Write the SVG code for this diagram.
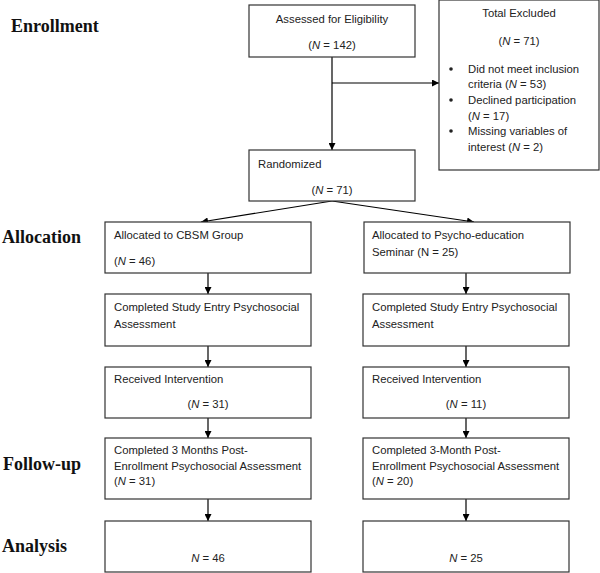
<svg xmlns="http://www.w3.org/2000/svg" width="600" height="573" viewBox="0 0 600 573">
<defs>
<marker id="ah" viewBox="0 0 10 10" refX="10" refY="5" markerWidth="7" markerHeight="7" markerUnits="userSpaceOnUse" orient="auto">
<path d="M0,0 L10,5 L0,10 z" fill="#000"/>
</marker>
<style>
.box{fill:#fff;stroke:#333;stroke-width:1.2}
.t{font-family:"Liberation Sans",Arial,sans-serif;font-size:11.3px;fill:#222}
.c{text-anchor:middle}
.h{font-family:"Liberation Serif","Times New Roman",serif;font-size:18px;font-weight:bold;fill:#111}
.ln{stroke:#000;stroke-width:1.2;fill:none}
</style>
</defs>
<rect width="600" height="573" fill="#fff"/>
<g id="labels">
<text class="h" x="11" y="32">Enrollment</text>
<text class="h" x="2" y="243">Allocation</text>
<text class="h" x="3" y="470">Follow-up</text>
<text class="h" x="2" y="552">Analysis</text>
</g>
<g id="connectors">
<line class="ln" x1="332" y1="57" x2="332" y2="150" marker-end="url(#ah)"/>
<line class="ln" x1="332" y1="83" x2="439" y2="83" marker-end="url(#ah)"/>
<line class="ln" x1="332" y1="201" x2="201" y2="222" marker-end="url(#ah)"/>
<line class="ln" x1="332" y1="201" x2="474" y2="222" marker-end="url(#ah)"/>
<line class="ln" x1="208" y1="273" x2="208" y2="294" marker-end="url(#ah)"/>
<line class="ln" x1="466" y1="273" x2="466" y2="294" marker-end="url(#ah)"/>
<line class="ln" x1="208" y1="346" x2="208" y2="367" marker-end="url(#ah)"/>
<line class="ln" x1="466" y1="346" x2="466" y2="367" marker-end="url(#ah)"/>
<line class="ln" x1="208" y1="418" x2="208" y2="438" marker-end="url(#ah)"/>
<line class="ln" x1="466" y1="418" x2="466" y2="438" marker-end="url(#ah)"/>
<line class="ln" x1="208" y1="499" x2="208" y2="521" marker-end="url(#ah)"/>
<line class="ln" x1="466" y1="499" x2="466" y2="521" marker-end="url(#ah)"/>
</g>
<g id="assessed">
<rect class="box" x="249" y="5" width="166" height="52"/>
<text class="t c" x="332" y="23">Assessed for Eligibility</text>
<text class="t c" x="332" y="49">(<tspan font-style="italic">N</tspan> = 142)</text>
</g>
<g id="excluded">
<rect class="box" x="439" y="0" width="160" height="170"/>
<text class="t c" x="519" y="17">Total Excluded</text>
<text class="t c" x="519" y="45">(<tspan font-style="italic">N</tspan> = 71)</text>
<circle cx="451" cy="69" r="1.8" fill="#222"/>
<text class="t" x="468" y="73">Did not meet inclusion</text>
<text class="t" x="468" y="88">criteria  (<tspan font-style="italic">N</tspan> = 53)</text>
<circle cx="451" cy="100" r="1.8" fill="#222"/>
<text class="t" x="468" y="104">Declined participation</text>
<text class="t" x="468" y="120">(<tspan font-style="italic">N</tspan> = 17)</text>
<circle cx="451" cy="131" r="1.8" fill="#222"/>
<text class="t" x="468" y="135">Missing variables of</text>
<text class="t" x="468" y="151">interest (<tspan font-style="italic">N</tspan> = 2)</text>
</g>
<g id="randomized">
<rect class="box" x="249" y="150" width="166" height="51"/>
<text class="t" x="258" y="168">Randomized</text>
<text class="t c" x="332" y="194">(<tspan font-style="italic">N</tspan> = 71)</text>
</g>
<g id="cbsm">
<rect class="box" x="105" y="222" width="206" height="51"/>
<text class="t" x="114" y="239">Allocated to CBSM Group</text>
<text class="t" x="114" y="265">(<tspan font-style="italic">N</tspan> = 46)</text>
</g>
<g id="psychoed">
<rect class="box" x="364" y="222" width="206" height="51"/>
<text class="t" x="372" y="239">Allocated to Psycho-education</text>
<text class="t" x="372" y="256">Seminar (N = 25)</text>
</g>
<g id="entry-left">
<rect class="box" x="105" y="294" width="206" height="52"/>
<text class="t" x="114" y="311">Completed Study Entry Psychosocial</text>
<text class="t" x="114" y="328">Assessment</text>
</g>
<g id="entry-right">
<rect class="box" x="363" y="294" width="206" height="52"/>
<text class="t" x="372" y="311">Completed Study Entry Psychosocial</text>
<text class="t" x="372" y="328">Assessment</text>
</g>
<g id="intervention-left">
<rect class="box" x="105" y="367" width="206" height="51"/>
<text class="t" x="114" y="383">Received Intervention</text>
<text class="t c" x="208" y="408">(<tspan font-style="italic">N</tspan> = 31)</text>
</g>
<g id="intervention-right">
<rect class="box" x="363" y="367" width="206" height="51"/>
<text class="t" x="372" y="383">Received Intervention</text>
<text class="t c" x="466" y="408">(<tspan font-style="italic">N</tspan> = 11)</text>
</g>
<g id="followup-left">
<rect class="box" x="105" y="438" width="206" height="61"/>
<text class="t" x="114" y="454">Completed 3 Months Post-</text>
<text class="t" x="114" y="470">Enrollment Psychosocial Assessment</text>
<text class="t" x="114" y="485">(<tspan font-style="italic">N</tspan> = 31)</text>
</g>
<g id="followup-right">
<rect class="box" x="363" y="438" width="206" height="61"/>
<text class="t" x="372" y="454">Completed 3-Month Post-</text>
<text class="t" x="372" y="470">Enrollment Psychosocial Assessment</text>
<text class="t" x="372" y="485">(<tspan font-style="italic">N</tspan> = 20)</text>
</g>
<g id="analysis-left">
<rect class="box" x="105" y="521" width="206" height="51"/>
<text class="t c" x="208" y="562"><tspan font-style="italic">N</tspan> = 46</text>
</g>
<g id="analysis-right">
<rect class="box" x="363" y="521" width="206" height="51"/>
<text class="t c" x="466" y="562"><tspan font-style="italic">N</tspan> = 25</text>
</g>
</svg>
